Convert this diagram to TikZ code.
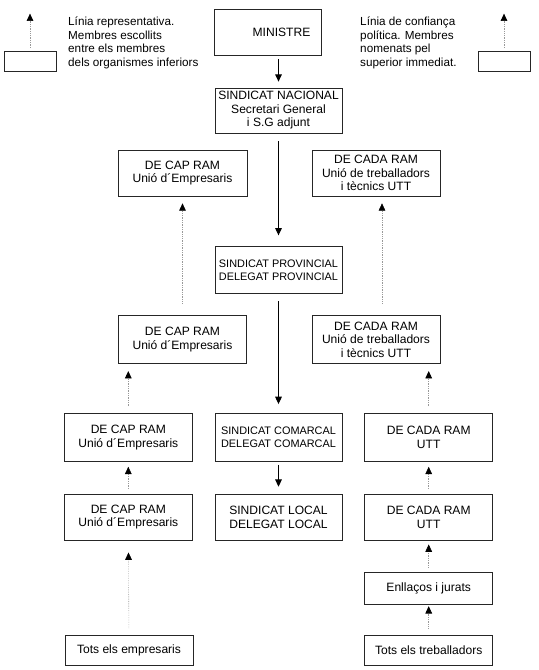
\documentclass[tikz,border=0pt]{standalone}
\usepackage{fontspec}
\setmainfont{Liberation Sans}
\usepackage{tikz}
\usetikzlibrary{arrows.meta, positioning}

\begin{document}
\begin{tikzpicture}[
    font=\fontsize{10.3}{11.5}\selectfont,
    node distance=0.66cm and 0.66cm,
    box/.style={draw=black!85, line width=0.6pt, align=center, inner sep=1pt, minimum width=3.84cm, minimum height=1.38cm},
    mid/.style={box, minimum width=3.81cm},
    small/.style={font=\fontsize{9.3}{11.3}\selectfont},
    key/.style={draw=black!85, line width=0.6pt, minimum width=1.56cm, minimum height=0.6cm, inner sep=0pt},
    note/.style={align=left, inner sep=0pt, anchor=north west, font=\fontsize{10}{11.6}\selectfont},
    line/.style={-{Triangle[length=0.22cm, width=0.2cm]}, line width=0.8pt},
    vote/.style={-{Triangle[length=0.22cm, width=0.2cm, color=black]}, gray!80, densely dotted, line width=0.5pt}
]
\useasboundingbox (0,0) rectangle (16.14,-20.1);

% legend
\node[key] (keyL) at (0.9,-1.83) {};
\node[key] (keyR) at (15.12,-1.83) {};
\coordinate (tipL) at ([yshift=1.11cm]keyL.north);
\coordinate (tipR) at ([yshift=1.11cm]keyR.north);
\node[note] (noteL) at (2.04,-0.5) {Línia representativa.\\Membres escollits\\entre els membres\\dels organismes inferiors};
\node[note] (noteR) at (10.8,-0.5) {Línia de confiança\\política. Membres\\nomenats pel\\superior immediat.};

% central column
\node[box, minimum width=3.21cm] (ministre) at (8.025,-0.96) {\hspace*{0.84cm}MINISTRE};
\node[mid, minimum height=1.35cm] (nacional) at (8.355,-3.315) {SINDICAT NACIONAL\\Secretari General\\i S.G adjunt};
\node[mid, small, minimum height=1.41cm, below=3.39cm of nacional] (provincial) {SINDICAT PROVINCIAL\\DELEGAT PROVINCIAL};
\node[mid, small, minimum height=1.44cm, below=3.57cm of provincial] (comarcal) {SINDICAT COMARCAL\\DELEGAT COMARCAL};
\node[mid, below=0.96cm of comarcal] (local) {SINDICAT LOCAL\\DELEGAT LOCAL};

% upper side boxes
\node[box, minimum width=3.87cm] (capA) at (5.475,-5.19) {DE CAP RAM\\Unió d´Empresaris};
\node[box] (cadaA) at (11.28,-5.19) {DE CADA RAM\\Unió de treballadors\\i tècnics UTT};
\node[box, minimum height=1.44cm, below=3.57cm of capA] (capB) {DE CAP RAM\\Unió d´Empresaris};
\node[box, minimum height=1.44cm, below=3.57cm of cadaA] (cadaB) {DE CADA RAM\\Unió de treballadors\\i tècnics UTT};

% lower side boxes
\node[box, minimum height=1.44cm, left=of comarcal] (capC) {DE CAP RAM\\Unió d´Empresaris};
\node[box, minimum height=1.44cm, right=of comarcal] (cadaC) {DE CADA RAM\\UTT};
\node[box, left=of local] (capD) {DE CAP RAM\\Unió d´Empresaris};
\node[box, right=of local] (cadaD) {DE CADA RAM\\UTT};
\node[box, minimum height=0.96cm, below=0.96cm of cadaD] (enllacos) {Enllaços i jurats};
\node[box, minimum height=0.9cm, below=0.9cm of enllacos] (totsT) {Tots els treballadors};
\node[box, minimum height=0.9cm, left=5.13cm of totsT] (totsE) {Tots els empresaris};

% appointed from above
\draw[line, shorten <=0.12cm, shorten >=0.18cm] (nacional.north |- ministre.south) -- (nacional.north);
\draw[line, shorten <=0.24cm, shorten >=0.33cm] (nacional) -- (provincial);
\draw[line, shorten <=0.21cm, shorten >=0.27cm] (provincial) -- (comarcal);
\draw[line, shorten <=0.09cm, shorten >=0.21cm] (comarcal) -- (local);

% elected from below
\draw[vote, shorten <=0.09cm] (keyL) -- (tipL);
\draw[vote, shorten <=0.09cm] (keyR) -- (tipR);
\draw[vote, shorten <=0.36cm, shorten >=0.21cm] (capB.north) -- (capB.north |- capA.south);
\draw[vote, shorten <=0.36cm, shorten >=0.21cm] ([xshift=0.18cm]cadaB.north) -- ([xshift=0.18cm]cadaB.north |- cadaA.south);
\draw[vote, shorten <=0.21cm, shorten >=0.21cm] (capC.north) -- (capC.north |- capB.south);
\draw[vote, shorten <=0.21cm, shorten >=0.21cm] (cadaC.north) -- (cadaC.north |- cadaB.south);
\draw[vote, shorten <=0.15cm, shorten >=0.15cm] (capD) -- (capC);
\draw[vote, shorten <=0.15cm, shorten >=0.15cm] (cadaD) -- (cadaC);
\draw[vote, shorten <=0.21cm, shorten >=0.36cm] (totsE) -- (capD);
\draw[vote, shorten <=0.15cm, shorten >=0.12cm] (enllacos) -- (cadaD);
\draw[vote, shorten <=0.21cm, shorten >=0.03cm] (totsT) -- (enllacos);

\end{tikzpicture}
\end{document}
